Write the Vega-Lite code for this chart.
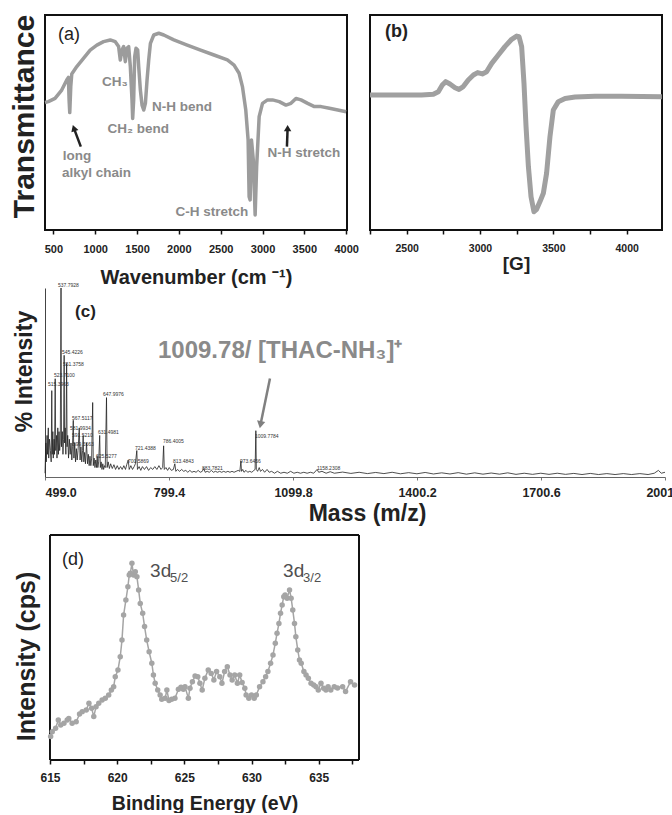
{
  "$schema": "https://vega.github.io/schema/vega-lite/v6.json",
  "padding": {"left": 7, "top": 13, "right": 0, "bottom": 0},
  "background": "white",
  "bounds": "flush",
  "columns": 2,
  "spacing": {"row": 58, "column": 23},
  "config": {
    "font": "Liberation Sans",
    "view": {"stroke": null},
    "axis": {"grid": false, "labelFont": "Liberation Sans", "titleFont": "Liberation Sans"}
  },
  "datasets": {
    "ir": [
      {"wn":400,"t":59.3},{"wn":440,"t":59.7},{"wn":520,"t":61.2},{"wn":600,"t":65.1},{"wn":660,"t":69.8},{"wn":680,"t":71.0},{"wn":688,"t":60.5},{"wn":696,"t":54.6},{"wn":708,"t":66.7},{"wn":720,"t":72.6},{"wn":780,"t":76.0},{"wn":860,"t":79.8},{"wn":940,"t":83.7},{"wn":1020,"t":86.0},{"wn":1100,"t":87.6},{"wn":1180,"t":88.4},{"wn":1240,"t":87.6},{"wn":1280,"t":85.3},{"wn":1300,"t":79.1},{"wn":1320,"t":83.7},{"wn":1340,"t":85.3},{"wn":1360,"t":78.3},{"wn":1380,"t":84.5},{"wn":1400,"t":85.3},{"wn":1420,"t":76.0},{"wn":1440,"t":60.5},{"wn":1448,"t":51.9},{"wn":1460,"t":60.5},{"wn":1472,"t":80.6},{"wn":1488,"t":84.5},{"wn":1508,"t":83.7},{"wn":1520,"t":76.0},{"wn":1540,"t":65.1},{"wn":1560,"t":58.1},{"wn":1580,"t":55.8},{"wn":1600,"t":58.9},{"wn":1620,"t":69.8},{"wn":1640,"t":79.1},{"wn":1660,"t":86.8},{"wn":1700,"t":90.7},{"wn":1760,"t":91.5},{"wn":1820,"t":90.7},{"wn":1940,"t":88.4},{"wn":2100,"t":86.0},{"wn":2260,"t":83.7},{"wn":2420,"t":81.4},{"wn":2580,"t":79.1},{"wn":2660,"t":76.7},{"wn":2720,"t":72.9},{"wn":2760,"t":66.7},{"wn":2800,"t":55.8},{"wn":2828,"t":41.9},{"wn":2840,"t":15.5},{"wn":2852,"t":14.0},{"wn":2868,"t":41.9},{"wn":2890,"t":32.6},{"wn":2912,"t":7.0},{"wn":2930,"t":29.5},{"wn":2960,"t":52.7},{"wn":3000,"t":58.9},{"wn":3060,"t":60.5},{"wn":3120,"t":60.5},{"wn":3200,"t":59.7},{"wn":3280,"t":58.1},{"wn":3340,"t":58.9},{"wn":3400,"t":61.2},{"wn":3460,"t":60.5},{"wn":3540,"t":58.9},{"wn":3620,"t":57.4},{"wn":3700,"t":57.4},{"wn":3800,"t":56.6},{"wn":3900,"t":55.8},{"wn":4000,"t":55.0}
    ],
    "irLabels": [
      {"wn":1080,"t":68.8,"label":"CH₃"},{"wn":1680,"t":57.4,"label":"N-H bend"},{"wn":1148,"t":46.8,"label":"CH₂ bend"},{"wn":612,"t":34.4,"label":"long"},{"wn":604,"t":26.7,"label":"alkyl chain"},{"wn":1960,"t":8.4,"label":"C-H stretch"},{"wn":3060,"t":36,"label":"N-H stretch"}
    ],
    "irArrows": [
      {"wn":828,"t":38.8,"wn2":745,"t2":47.4,"ang":-19},
      {"wn":3292,"t":38.8,"wn2":3300,"t2":47.4,"ang":0}
    ],
    "epr": [
      {"g":2250,"v":62.8},{"g":2375,"v":62.8},{"g":2500,"v":62.8},{"g":2602,"v":62.8},{"g":2682,"v":63.1},{"g":2716,"v":64.3},{"g":2743,"v":67.4},{"g":2766,"v":69.0},{"g":2795,"v":67.9},{"g":2830,"v":66.2},{"g":2857,"v":65.4},{"g":2886,"v":66.7},{"g":2920,"v":69.8},{"g":2955,"v":72.1},{"g":2984,"v":73.2},{"g":3016,"v":72.6},{"g":3045,"v":73.6},{"g":3080,"v":77.5},{"g":3125,"v":81.4},{"g":3170,"v":85.3},{"g":3216,"v":88.7},{"g":3250,"v":90.2},{"g":3266,"v":89.9},{"g":3284,"v":85.3},{"g":3300,"v":68.2},{"g":3314,"v":48.1},{"g":3330,"v":29.5},{"g":3348,"v":15.5},{"g":3368,"v":8.5},{"g":3386,"v":9.6},{"g":3409,"v":13.2},{"g":3432,"v":17.1},{"g":3454,"v":26.4},{"g":3477,"v":43.4},{"g":3500,"v":55.8},{"g":3534,"v":59.7},{"g":3580,"v":61.2},{"g":3648,"v":61.9},{"g":3784,"v":62.2},{"g":3966,"v":62.2},{"g":4240,"v":62.0}
    ],
    "ms": [
      {"m":499,"i":2},{"m":501,"i":18},{"m":502,"i":8},{"m":504,"i":22},{"m":505,"i":12},{"m":507,"i":26},{"m":508,"i":10},{"m":510,"i":20},{"m":512,"i":14},{"m":514,"i":8},{"m":515.4,"i":45.7},{"m":516.5,"i":12},{"m":518,"i":24},{"m":519,"i":10},{"m":521,"i":20},{"m":522,"i":12},{"m":523.7,"i":52},{"m":525,"i":14},{"m":527,"i":22},{"m":528,"i":10},{"m":530,"i":26},{"m":531.5,"i":12},{"m":533,"i":24},{"m":534.5,"i":14},{"m":536,"i":18},{"m":537.8,"i":100},{"m":539,"i":16},{"m":541,"i":24},{"m":542.5,"i":12},{"m":544,"i":20},{"m":545.4,"i":64.4},{"m":546.5,"i":18},{"m":548,"i":26},{"m":549.5,"i":12},{"m":551.4,"i":60},{"m":552.5,"i":16},{"m":554,"i":22},{"m":556,"i":10},{"m":558,"i":20},{"m":560,"i":12},{"m":562,"i":18},{"m":564,"i":9},{"m":565.5,"i":16},{"m":567.5,"i":30},{"m":569,"i":10},{"m":571,"i":18},{"m":573,"i":8},{"m":575,"i":15},{"m":577,"i":9},{"m":579,"i":14},{"m":582,"i":26},{"m":584,"i":9},{"m":586,"i":16},{"m":588,"i":8},{"m":590,"i":14},{"m":591.5,"i":22},{"m":593,"i":8},{"m":595,"i":13},{"m":597,"i":7},{"m":599.6,"i":18},{"m":602,"i":7},{"m":604,"i":12},{"m":606,"i":6},{"m":608,"i":11},{"m":610,"i":6},{"m":612,"i":10},{"m":614.5,"i":39.4},{"m":616,"i":6},{"m":618,"i":10},{"m":620,"i":5},{"m":622,"i":9},{"m":624,"i":5},{"m":625.5,"i":11},{"m":627,"i":5},{"m":629,"i":8},{"m":631.5,"i":22},{"m":633,"i":5},{"m":635,"i":8},{"m":637,"i":4},{"m":639,"i":7},{"m":641,"i":4},{"m":643,"i":6},{"m":645,"i":5},{"m":648,"i":42},{"m":649.5,"i":5},{"m":652,"i":8},{"m":655,"i":4.5},{"m":658,"i":7},{"m":662,"i":4.5},{"m":666,"i":6.5},{"m":670,"i":4},{"m":674,"i":6},{"m":678,"i":4},{"m":682,"i":5.5},{"m":686,"i":4},{"m":690,"i":6},{"m":694,"i":4},{"m":697,"i":6.5},{"m":700.6,"i":9},{"m":703,"i":4},{"m":707,"i":6},{"m":711,"i":4},{"m":715,"i":5.5},{"m":718,"i":7},{"m":721.4,"i":14},{"m":723,"i":4},{"m":727,"i":5.5},{"m":731,"i":3.5},{"m":735,"i":5.5},{"m":740,"i":4},{"m":745,"i":5.5},{"m":750,"i":3.5},{"m":755,"i":5},{"m":760,"i":4},{"m":765,"i":5.5},{"m":770,"i":4},{"m":775,"i":6},{"m":780,"i":4},{"m":784,"i":5},{"m":786.4,"i":16.5},{"m":788,"i":4},{"m":792,"i":5},{"m":796,"i":3.5},{"m":800,"i":5},{"m":805,"i":3.5},{"m":810,"i":4},{"m":813.5,"i":7},{"m":816,"i":3},{"m":820,"i":4},{"m":825,"i":3},{"m":830,"i":4},{"m":835,"i":3},{"m":840,"i":3.5},{"m":845,"i":2.5},{"m":850,"i":3.5},{"m":855,"i":2.5},{"m":860,"i":3},{"m":865,"i":2.5},{"m":870,"i":3.5},{"m":875,"i":2.5},{"m":880,"i":3},{"m":883.8,"i":4.5},{"m":887,"i":2.5},{"m":892,"i":3},{"m":897,"i":2.5},{"m":902,"i":3.5},{"m":907,"i":2.5},{"m":912,"i":3},{"m":917,"i":2.5},{"m":922,"i":3},{"m":927,"i":2.5},{"m":932,"i":3},{"m":937,"i":2.5},{"m":942,"i":3},{"m":947,"i":2.5},{"m":952,"i":3},{"m":957,"i":2.5},{"m":962,"i":3},{"m":967,"i":3.5},{"m":971,"i":3},{"m":973.6,"i":8.5},{"m":975,"i":3},{"m":978,"i":4},{"m":981,"i":2.5},{"m":986,"i":3.5},{"m":990,"i":2.5},{"m":995,"i":3},{"m":1000,"i":2.5},{"m":1005,"i":3.5},{"m":1008,"i":4},{"m":1009.8,"i":24.5},{"m":1011,"i":4},{"m":1014,"i":3},{"m":1018,"i":5},{"m":1021,"i":3},{"m":1026,"i":4},{"m":1031,"i":2.5},{"m":1037,"i":4},{"m":1042,"i":2.5},{"m":1048,"i":3},{"m":1055,"i":2},{"m":1062,"i":3},{"m":1070,"i":2},{"m":1078,"i":2.5},{"m":1086,"i":2},{"m":1094,"i":3},{"m":1102,"i":2},{"m":1110,"i":2.5},{"m":1118,"i":2},{"m":1126,"i":2.5},{"m":1134,"i":2},{"m":1142,"i":2.5},{"m":1150,"i":2},{"m":1158.2,"i":4},{"m":1162,"i":2.5},{"m":1170,"i":3},{"m":1180,"i":2},{"m":1190,"i":2.8},{"m":1200,"i":2},{"m":1220,"i":2.6},{"m":1240,"i":1.9},{"m":1260,"i":2.5},{"m":1280,"i":1.8},{"m":1300,"i":2.4},{"m":1320,"i":1.8},{"m":1340,"i":2.5},{"m":1360,"i":1.7},{"m":1380,"i":2.3},{"m":1400,"i":1.7},{"m":1420,"i":2.4},{"m":1440,"i":1.6},{"m":1460,"i":2.2},{"m":1480,"i":1.6},{"m":1500,"i":2.3},{"m":1520,"i":1.5},{"m":1540,"i":2.2},{"m":1560,"i":1.5},{"m":1580,"i":2.1},{"m":1600,"i":1.5},{"m":1620,"i":2.2},{"m":1640,"i":1.4},{"m":1660,"i":2},{"m":1680,"i":1.4},{"m":1700,"i":2},{"m":1720,"i":1.4},{"m":1740,"i":2},{"m":1760,"i":1.4},{"m":1780,"i":1.9},{"m":1800,"i":1.3},{"m":1820,"i":1.9},{"m":1840,"i":1.3},{"m":1860,"i":1.8},{"m":1880,"i":1.3},{"m":1900,"i":1.8},{"m":1920,"i":1.3},{"m":1940,"i":1.8},{"m":1960,"i":1.3},{"m":1975,"i":2},{"m":1985,"i":3.5},{"m":1992,"i":2},{"m":2001,"i":2.5}
    ],
    "msLabels": [
      {"m":530.5,"i":101.6,"label":"537.7928"},{"m":540.2,"i":66,"label":"545.4226"},{"m":542.6,"i":59.6,"label":"551.3758"},{"m":520.8,"i":54,"label":"523.7100"},{"m":506.3,"i":49,"label":"515.3963"},{"m":639.5,"i":44,"label":"647.9976"},{"m":564.4,"i":31,"label":"567.5117"},{"m":559.6,"i":26,"label":"581.9934"},{"m":627.4,"i":24,"label":"631.4981"},{"m":564.4,"i":22,"label":"591.5210"},{"m":566.8,"i":17.5,"label":"599.5563"},{"m":622.5,"i":11,"label":"625.5277"},{"m":700,"i":8.5,"label":"700.5869"},{"m":717,"i":15.4,"label":"721.4388"},{"m":784.8,"i":19,"label":"786.4005"},{"m":809,"i":8.5,"label":"813.4843"},{"m":879.3,"i":4.8,"label":"883.7821"},{"m":971.4,"i":8.5,"label":"973.6456"},{"m":1007.7,"i":21.8,"label":"1009.7784"},{"m":1157.9,"i":4.8,"label":"1158.2308"}
    ],
    "xps": [
      {"e":615.05,"v":10.4},{"e":615.17,"v":12.6},{"e":615.42,"v":14.1},{"e":615.62,"v":17.8},{"e":615.8,"v":15.6},{"e":616.04,"v":16.3},{"e":616.28,"v":17.8},{"e":616.4,"v":18.5},{"e":616.65,"v":16.3},{"e":616.95,"v":17},{"e":617.2,"v":20.4},{"e":617.4,"v":21.5},{"e":617.7,"v":22.2},{"e":617.9,"v":25.2},{"e":618.1,"v":23},{"e":618.26,"v":19.3},{"e":618.43,"v":23.7},{"e":618.63,"v":25.2},{"e":618.88,"v":26.7},{"e":619.12,"v":27.4},{"e":619.37,"v":28.9},{"e":619.57,"v":31.1},{"e":619.74,"v":32.6},{"e":619.86,"v":37},{"e":620.06,"v":40},{"e":620.23,"v":45.9},{"e":620.36,"v":53.3},{"e":620.48,"v":64.4},{"e":620.65,"v":71.1},{"e":620.8,"v":77},{"e":620.9,"v":82.2},{"e":620.98,"v":83},{"e":621.1,"v":87.4},{"e":621.22,"v":82.2},{"e":621.35,"v":83.7},{"e":621.47,"v":81.5},{"e":621.6,"v":75.6},{"e":621.72,"v":69.6},{"e":621.9,"v":65.2},{"e":622.04,"v":59.3},{"e":622.2,"v":53.3},{"e":622.38,"v":48.1},{"e":622.58,"v":43},{"e":622.7,"v":37.8},{"e":622.83,"v":34.1},{"e":623.02,"v":31.1},{"e":623.2,"v":28.9},{"e":623.32,"v":27},{"e":623.57,"v":27.4},{"e":623.7,"v":31.1},{"e":623.86,"v":26.4},{"e":624.06,"v":27},{"e":624.3,"v":27.4},{"e":624.56,"v":31.4},{"e":624.75,"v":32.3},{"e":624.93,"v":31.4},{"e":625.05,"v":32.6},{"e":625.3,"v":27.4},{"e":625.42,"v":31.9},{"e":625.6,"v":34.8},{"e":625.8,"v":37.3},{"e":626,"v":37},{"e":626.16,"v":34.1},{"e":626.33,"v":31.1},{"e":626.53,"v":36.3},{"e":626.78,"v":40},{"e":627,"v":38.5},{"e":627.2,"v":35.6},{"e":627.4,"v":39.3},{"e":627.64,"v":37},{"e":627.8,"v":34.1},{"e":628,"v":39.3},{"e":628.2,"v":41.5},{"e":628.4,"v":37.8},{"e":628.56,"v":35.6},{"e":628.75,"v":37.8},{"e":628.95,"v":34.1},{"e":629.12,"v":37.8},{"e":629.3,"v":34.4},{"e":629.5,"v":31.9},{"e":629.6,"v":28.9},{"e":629.8,"v":27.4},{"e":630,"v":28.9},{"e":630.2,"v":27.4},{"e":630.36,"v":28.9},{"e":630.6,"v":32.6},{"e":630.85,"v":34.8},{"e":631.05,"v":37},{"e":631.22,"v":39.3},{"e":631.42,"v":43},{"e":631.6,"v":46.7},{"e":631.77,"v":51.9},{"e":631.9,"v":56.3},{"e":632.04,"v":60.7},{"e":632.16,"v":65.2},{"e":632.28,"v":68.9},{"e":632.4,"v":72.6},{"e":632.5,"v":73.3},{"e":632.65,"v":71.9},{"e":632.83,"v":75.6},{"e":632.95,"v":71.9},{"e":633.07,"v":66.7},{"e":633.2,"v":60.7},{"e":633.3,"v":54.8},{"e":633.44,"v":48.9},{"e":633.57,"v":44.4},{"e":633.7,"v":43},{"e":633.9,"v":39.3},{"e":634.06,"v":37.8},{"e":634.23,"v":36.3},{"e":634.43,"v":34.1},{"e":634.63,"v":33.3},{"e":634.8,"v":32.6},{"e":634.97,"v":31.1},{"e":635.17,"v":34.1},{"e":635.37,"v":31.9},{"e":635.54,"v":31.1},{"e":635.7,"v":32.6},{"e":635.9,"v":31.1},{"e":636.16,"v":32.6},{"e":636.4,"v":32},{"e":636.78,"v":32.6},{"e":637,"v":30.4},{"e":637.37,"v":34.8},{"e":637.67,"v":33.3}
    ],
    "xpsFrame": [
      {"e":615,"v":0,"e2":615,"v2":100},{"e":638,"v":0,"e2":638,"v2":100},{"e":615,"v":0,"e2":638,"v2":0},{"e":615,"v":100,"e2":638,"v2":100}
    ]
  },
  "concat": [
    {
      "width": 302, "height": 215,
      "view": {"stroke": "#111", "strokeWidth": 2},
      "encoding": {
        "x": {"field": "wn", "type": "quantitative", "scale": {"domain": [400, 4010], "nice": false, "zero": false},
          "axis": {"title": "Wavenumber (cm ⁻¹)", "values": [500,1000,1500,2000,2500,3000,3500,4000], "format": "d", "domain": false, "labelFlush": false,
            "labelFontSize": 11, "labelFontWeight": "bold", "labelColor": "#222", "tickSize": 4, "tickColor": "#111", "tickWidth": 1.5, "labelPadding": 9,
            "titleFontSize": 20, "titleFontWeight": "bold", "titleColor": "#222", "titleY": 47, "titleBaseline": "middle"}},
        "y": {"field": "t", "type": "quantitative", "scale": {"domain": [0, 100], "nice": false},
          "axis": {"title": "Transmittance", "labels": false, "ticks": false, "domain": false,
            "titleFontSize": 30, "titleFontWeight": "bold", "titleColor": "#222", "titleX": -21, "titleY": 101, "titleBaseline": "middle", "titleAlign": "center"}}
      },
      "layer": [
        {"data": {"name": "ir"}, "mark": {"type": "line", "color": "#9c9c9c", "strokeWidth": 3.5, "strokeJoin": "round"}},
        {"data": {"name": "irLabels"}, "mark": {"type": "text", "align": "left", "baseline": "middle", "fontWeight": "bold", "fontSize": 13.5, "color": "#8a8a8a"},
          "encoding": {"text": {"field": "label"}}},
        {"data": {"values": [{"wn": 555, "t": 90.7}]}, "mark": {"type": "text", "align": "left", "baseline": "middle", "fontSize": 18, "color": "#222", "text": "(a)"}},
        {"data": {"name": "irArrows"}, "mark": {"type": "rule", "color": "#222", "strokeWidth": 2.5},
          "encoding": {"x2": {"field": "wn2"}, "y2": {"field": "t2"}}},
        {"data": {"name": "irArrows"}, "mark": {"type": "point", "shape": "triangle-up", "filled": true, "color": "#222", "opacity": 1, "size": 55},
          "encoding": {"x": {"field": "wn2", "type": "quantitative"}, "y": {"field": "t2", "type": "quantitative"}, "angle": {"field": "ang", "type": "quantitative", "scale": null}}}
      ]
    },
    {
      "width": 292, "height": 215,
      "view": {"stroke": "#111", "strokeWidth": 2},
      "encoding": {
        "x": {"field": "g", "type": "quantitative", "scale": {"domain": [2250, 4241], "nice": false, "zero": false},
          "axis": {"title": "[G]", "values": [2250,2500,2750,3000,3250,3500,3750,4000], "labelExpr": "datum.value % 500 == 0 ? format(datum.value, 'd') : ''", "domain": false, "labelFlush": false,
            "labelFontSize": 10.5, "labelFontWeight": "bold", "labelColor": "#222", "tickSize": 4, "tickColor": "#111", "tickWidth": 1.5, "labelPadding": 9.4,
            "titleFontSize": 19, "titleFontWeight": "bold", "titleColor": "#222", "titleY": 33, "titleBaseline": "middle"}},
        "y": {"field": "v", "type": "quantitative", "scale": {"domain": [0, 100], "nice": false}, "axis": null}
      },
      "layer": [
        {"data": {"name": "epr"}, "mark": {"type": "line", "color": "#a0a0a0", "strokeWidth": 5, "strokeJoin": "round"}},
        {"data": {"values": [{"g": 2352, "v": 92.1}]}, "mark": {"type": "text", "align": "left", "baseline": "middle", "fontSize": 18, "fontWeight": "bold", "color": "#222", "text": "(b)"}}
      ]
    },
    {
      "width": 302, "height": 189,
      "encoding": {
        "x": {"field": "m", "type": "quantitative", "scale": {"domain": [499, 2001], "nice": false, "zero": false, "range": [0, 620]},
          "axis": {"title": "Mass (m/z)", "values": [499, 799.4, 1099.8, 1400.2, 1700.6, 2001], "labelExpr": "format(datum.value, '.1f')",
            "labelAlign": {"condition": {"test": "datum.value < 500", "value": "left"}, "value": "center"},
            "domainColor": "#666", "domainWidth": 1, "labelFontSize": 12.5, "labelFontWeight": "bold", "labelColor": "#222", "tickSize": 3, "tickColor": "#777", "labelPadding": 6.5,
            "titleFontSize": 23, "titleFontWeight": "bold", "titleColor": "#222", "titleY": 36, "titleX": 322, "titleBaseline": "middle"}},
        "y": {"field": "i", "type": "quantitative", "scale": {"domain": [0, 100], "nice": false},
          "axis": {"title": "% Intensity", "labels": false, "ticks": false, "domainColor": "#444", "domainWidth": 1,
            "titleFontSize": 23, "titleFontWeight": "bold", "titleColor": "#222", "titleX": -21, "titleY": 83, "titleBaseline": "middle", "titleAlign": "center"}}
      },
      "layer": [
        {"data": {"name": "ms"}, "mark": {"type": "line", "color": "#222", "strokeWidth": 0.8}},
        {"data": {"values": [{"m": 2001}]}, "mark": {"type": "rule", "color": "#bbb", "strokeWidth": 1},
          "encoding": {"y": {"datum": 0}, "y2": {"datum": 100}}},
        {"data": {"name": "msLabels"}, "mark": {"type": "text", "align": "left", "baseline": "middle", "fontSize": 5, "color": "#333"},
          "encoding": {"text": {"field": "label"}}},
        {"data": {"values": [{"m": 571.7, "i": 87.2}]}, "mark": {"type": "text", "align": "left", "baseline": "middle", "fontSize": 17, "fontWeight": "bold", "color": "#222", "text": "(c)"}},
        {"data": {"values": [{"m": 772.7, "i": 66.5}]}, "mark": {"type": "text", "align": "left", "baseline": "middle", "fontSize": 24, "fontWeight": "bold", "color": "#8a8a8a", "text": "1009.78/ [THAC-NH₃]⁺"}},
        {"data": {"values": [{"m": 1044, "i": 52.1, "m2": 1021, "i2": 27.7}]}, "mark": {"type": "rule", "color": "#808080", "strokeWidth": 2.5},
          "encoding": {"x2": {"field": "m2"}, "y2": {"field": "i2"}}},
        {"data": {"values": [{"m": 1021, "i": 27.7}]}, "mark": {"type": "point", "shape": "triangle-down", "filled": true, "color": "#808080", "opacity": 1, "size": 70, "angle": 11}}
      ]
    },
    {"width": 1, "height": 1, "data": {"values": [{"a": 0}]}, "mark": {"type": "point", "opacity": 0}, "encoding": {}},
    {
      "width": 302, "height": 225,
      "encoding": {
        "x": {"field": "e", "type": "quantitative", "scale": {"domain": [614.63, 638], "nice": false, "zero": false, "range": [0, 314]},
          "axis": {"title": "Binding Energy (eV)", "values": [615,617.5,620,622.5,625,627.5,630,632.5,635,637.5], "labelExpr": "datum.value % 5 == 0 ? format(datum.value, 'd') : ''", "domain": false, "labelFlush": false,
            "labelFontSize": 12, "labelFontWeight": "bold", "labelColor": "#222", "tickSize": 4, "tickColor": "#111", "tickWidth": 1.5, "labelPadding": 8.7,
            "titleFontSize": 19.5, "titleFontWeight": "bold", "titleColor": "#222", "titleY": 43, "titleX": 159.5, "titleBaseline": "middle"}},
        "y": {"field": "v", "type": "quantitative", "scale": {"domain": [0, 100], "nice": false},
          "axis": {"title": "Intensity (cps)", "labels": false, "ticks": false, "domain": false,
            "titleFontSize": 25, "titleFontWeight": "bold", "titleColor": "#222", "titleX": -19, "titleY": 121, "titleBaseline": "middle", "titleAlign": "center"}}
      },
      "layer": [
        {"data": {"name": "xpsFrame"}, "mark": {"type": "rule", "color": "#111", "strokeWidth": 2},
          "encoding": {"x2": {"field": "e2"}, "y2": {"field": "v2"}}},
        {"data": {"name": "xps"}, "mark": {"type": "line", "color": "#a5a5a5", "strokeWidth": 1.5, "point": {"filled": true, "size": 30, "color": "#a5a5a5", "opacity": 1}}},
        {"data": {"values": [{"e": 615.9, "v": 88.9}]}, "mark": {"type": "text", "align": "left", "baseline": "middle", "fontSize": 18, "color": "#222", "text": "(d)"}},
        {"data": {"values": [{"e": 622.45, "v": 81.3, "label": "3d"}, {"e": 632.35, "v": 81.3, "label": "3d"}]}, "mark": {"type": "text", "align": "left", "baseline": "alphabetic", "fontSize": 19, "color": "#505050"},
          "encoding": {"text": {"field": "label"}}},
        {"data": {"values": [{"e": 623.94, "v": 79.1, "label": "5/2"}, {"e": 633.84, "v": 78.9, "label": "3/2"}]}, "mark": {"type": "text", "align": "left", "baseline": "alphabetic", "fontSize": 13, "color": "#505050"},
          "encoding": {"text": {"field": "label"}}}
      ]
    }
  ]
}
